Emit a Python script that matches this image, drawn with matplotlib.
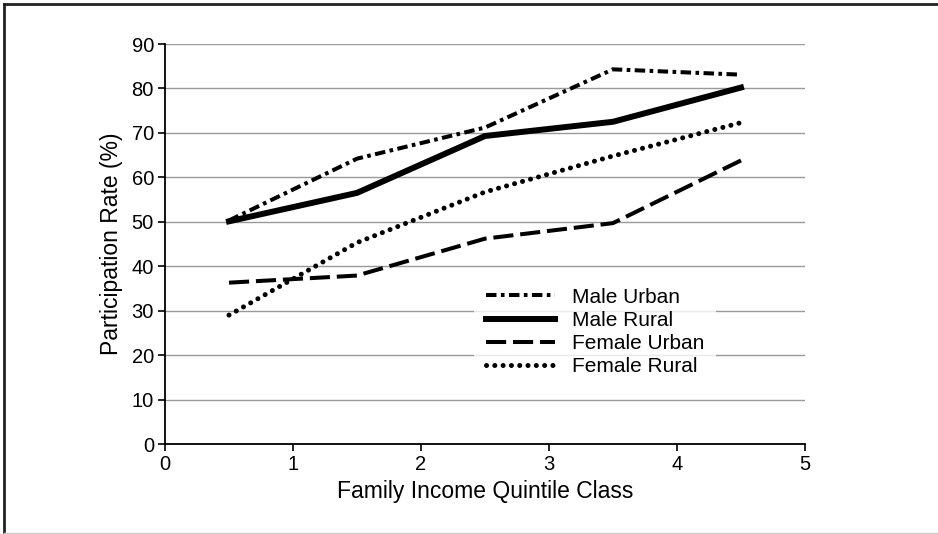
import matplotlib.pyplot as plt
from matplotlib.lines import Line2D

plt.rcParams['font.family'] = ['Liberation Sans', 'DejaVu Sans']

quintile = [0.5, 1.5, 2.5, 3.5, 4.5]
male_urban = [50.3, 64.2, 71.2, 84.3, 83.1]
male_rural = [50.1, 56.5, 69.3, 72.5, 80.2]
female_urban = [36.3, 37.9, 46.2, 49.7, 63.8]
female_rural = [29.0, 45.3, 56.7, 64.8, 72.3]

fig = plt.figure(figsize=(9.38, 5.34), dpi=100)
ax = fig.add_axes([165 / 938, 1 - 444 / 534, 640 / 938, 400 / 534])

ax.plot(quintile, male_urban, color='black', lw=2.9, dashes=(2.6, 1.1, 0.9, 1.1), label='Male Urban')
ax.plot(quintile, male_rural, color='black', lw=4.3, label='Male Rural')
ax.plot(quintile, female_urban, color='black', lw=2.9, dashes=(5, 1.7), label='Female Urban')
ax.plot(quintile, female_rural, color='black', lw=3.6, dashes=(0.01, 1.65),
        dash_capstyle='round', label='Female Rural')

ax.set_xlim(0, 5)
ax.set_ylim(0, 90)
ax.set_xticks(range(0, 6))
ax.set_yticks(range(0, 91, 10))
ax.yaxis.grid(True, color='#999999', lw=1)
ax.set_axisbelow(True)
for s in ['top', 'right']:
    ax.spines[s].set_visible(False)
for s in ['left', 'bottom']:
    ax.spines[s].set_linewidth(1.3)
ax.tick_params(direction='out', length=5, width=1.2, labelsize=14.5, pad=3)
ax.set_xlabel('Family Income Quintile Class', fontsize=16.5, labelpad=4)
ax.set_ylabel('Participation Rate (%)', fontsize=16.5, labelpad=6)

leg = ax.legend(loc='center', bbox_to_anchor=(0.672, 0.28), frameon=True,
                fontsize=15, handlelength=3.3, handletextpad=0.8,
                labelspacing=0.2, borderpad=0.6, borderaxespad=0, fancybox=False)
leg.get_frame().set_edgecolor('none')
leg.get_frame().set_facecolor('white')

fig.add_artist(Line2D([4 / 938, 4 / 938], [0, 1 - 4 / 534], color='#222222', lw=2))
fig.add_artist(Line2D([4 / 938, 1], [1 - 4 / 534, 1 - 4 / 534], color='#222222', lw=2))
fig.add_artist(Line2D([4 / 938, 1], [1 / 534, 1 / 534], color='#cccccc', lw=1))

fig.savefig('out.png', dpi=100)
